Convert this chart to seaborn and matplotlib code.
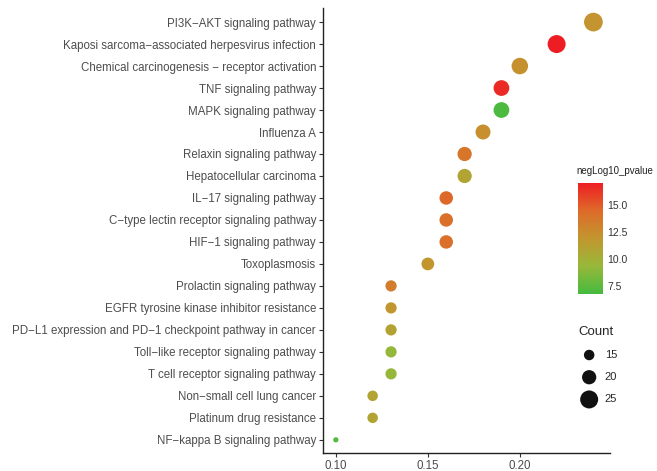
import numpy as np
import pandas as pd
import seaborn as sns
import matplotlib.pyplot as plt
from matplotlib.colors import LinearSegmentedColormap, Normalize
from matplotlib.cm import ScalarMappable

sns.set_theme(style="ticks")
plt.rcParams['font.family'] = ['Liberation Sans', 'DejaVu Sans']

# KEGG enrichment results (top to bottom as shown)
pathways = [
    "PI3K\u2212AKT signaling pathway",
    "Kaposi sarcoma\u2212associated herpesvirus infection",
    "Chemical carcinogenesis \u2212 receptor activation",
    "TNF signaling pathway",
    "MAPK signaling pathway",
    "Influenza A",
    "Relaxin signaling pathway",
    "Hepatocellular carcinoma",
    "IL\u221217 signaling pathway",
    "C\u2212type lectin receptor signaling pathway",
    "HIF\u22121 signaling pathway",
    "Toxoplasmosis",
    "Prolactin signaling pathway",
    "EGFR tyrosine kinase inhibitor resistance",
    "PD\u2212L1 expression and PD\u22121 checkpoint pathway in cancer",
    "Toll\u2212like receptor signaling pathway",
    "T cell receptor signaling pathway",
    "Non\u2212small cell lung cancer",
    "Platinum drug resistance",
    "NF\u2212kappa B signaling pathway",
]
gene_ratio = [0.24, 0.22, 0.20, 0.19, 0.19, 0.18, 0.17, 0.17, 0.16, 0.16,
              0.16, 0.15, 0.13, 0.13, 0.13, 0.13, 0.13, 0.12, 0.12, 0.10]
counts = [26, 25, 23, 22, 22, 21, 20, 20, 19, 19,
          19, 18, 16, 16, 16, 16, 16, 15, 15, 8]
neglog10_p = [12.0, 17.0, 12.2, 16.6, 7.0, 12.3, 13.8, 10.9, 14.5, 14.1,
              14.1, 11.9, 13.3, 11.8, 11.0, 9.3, 9.3, 10.9, 10.9, 7.2]
count_breaks = [15, 20, 25]
cbar_ticks = [7.5, 10.0, 12.5, 15.0]

df = pd.DataFrame({"pathway": pathways, "ratio": gene_ratio,
                   "Count": counts, "negLog10_pvalue": neglog10_p})
df["row"] = np.arange(len(df))

cmap = LinearSegmentedColormap.from_list(
    "gr", ["#45BA3F", "#98B83A", "#C2962F", "#DE6A29", "#EE1D24"])
norm = Normalize(vmin=6.8, vmax=17.0)


def area(c):
    # marker area (pt^2): dot diameter grows ~0.75 px per gene
    d_px = max(10.5 + 0.75 * (c - 15), 5.0)
    return (d_px * 0.72) ** 2


fig = plt.figure(figsize=(6.57, 4.71), dpi=100)
ax = fig.add_axes([0.4916, 0.0382, 0.4368, 0.9448])

sns.scatterplot(data=df, x="ratio", y="row", hue="negLog10_pvalue",
                size="Count", palette=cmap, hue_norm=norm,
                sizes={c: area(c) for c in set(counts)},
                edgecolor="none", legend=False, ax=ax)

ax.set_xlim(0.093, 0.249)
ax.set_ylim(len(df) - 0.4, -0.64)
ax.set_yticks(df["row"])
ax.set_yticklabels(df["pathway"])
ax.set_xticks([0.10, 0.15, 0.20])
ax.set_xticklabels(["0.10", "0.15", "0.20"])
ax.set_xlabel("")
ax.set_ylabel("")
ax.tick_params(axis="both", labelsize=8.3, labelcolor="#4D4D4D", color="#333333",
               length=3, width=0.8, pad=2)
sns.despine(ax=ax)
for side in ["left", "bottom"]:
    ax.spines[side].set_color("#222222")
    ax.spines[side].set_linewidth(1.0)

# colour bar
cax = fig.add_axes([0.880, 0.376, 0.038, 0.236])
sm = ScalarMappable(norm=norm, cmap=cmap)
cb = fig.colorbar(sm, cax=cax, ticks=cbar_ticks)
cb.outline.set_visible(False)
cb.ax.set_yticklabels(["7.5", "10.0", "12.5", "15.0"])
cb.ax.tick_params(labelsize=7.5, labelcolor="#333333", color="white",
                  length=3, width=0.6, direction="in", pad=3)
fig.text(0.877, 0.627, "negLog10_pvalue", fontsize=7, color="#222222",
         ha="left", va="bottom")

# size legend
handles = [ax.scatter([], [], s=area(c), color="#111111", edgecolor="none")
           for c in count_breaks]
fig.legend(handles, [str(c) for c in count_breaks], title="Count",
           loc="upper left", bbox_to_anchor=(0.868, 0.325), frameon=False,
           fontsize=8, title_fontsize=9.5, labelspacing=1.1,
           handletextpad=0.4, borderpad=0.2, alignment="left")

fig.savefig("out.png", dpi=100, facecolor="white")
